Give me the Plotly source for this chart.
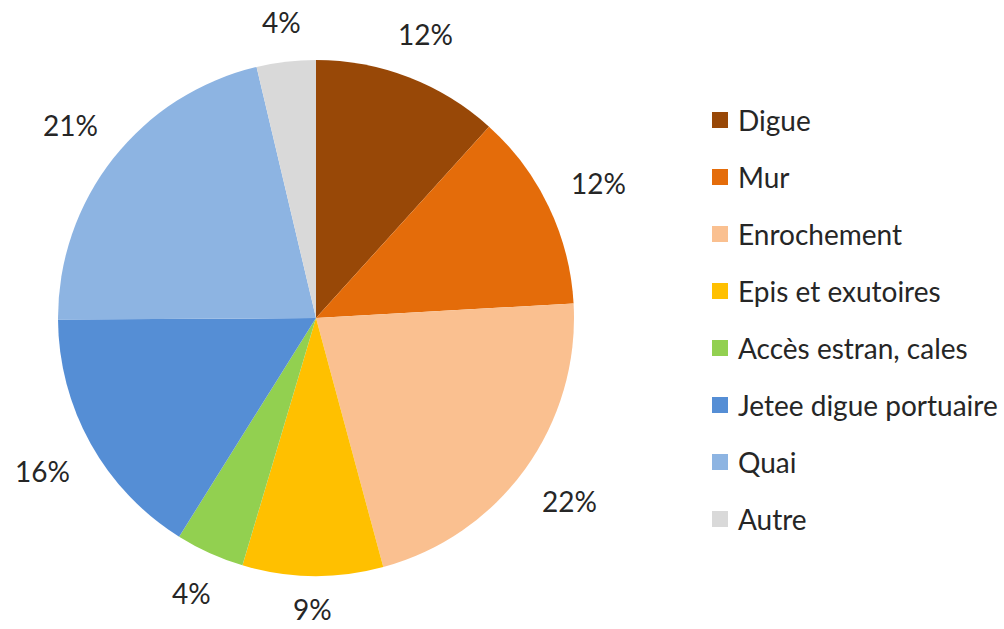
import math
import plotly.graph_objects as go

# ---- data ----
labels = ["Digue", "Mur", "Enrochement", "Epis et exutoires",
          "Accès estran, cales", "Jetee digue portuaire", "Quai", "Autre"]
values = [11.7, 12.4, 21.7, 8.8, 4.3, 16.0, 21.4, 3.7]
colors = ["#984807", "#E46C0A", "#FAC090", "#FFC000",
          "#92D050", "#558ED5", "#8DB4E2", "#D9D9D9"]

W, H = 1004, 629
CX, CY, R = 316, 318, 258          # pie centre / radius in pixels
FONT = "Lato, Open Sans, sans-serif"
TXT = "#262626"

fig = go.Figure()
fig.add_trace(go.Pie(
    labels=labels, values=values, sort=False, direction="clockwise",
    rotation=0, marker=dict(colors=colors, line=dict(width=0)),
    textinfo="none", hoverinfo="label+percent", showlegend=False,
    domain=dict(x=[(CX - R) / W, (CX + R) / W],
                y=[(H - CY - R) / H, (H - CY + R) / H]),
))

# percentage labels placed outside each slice, from the values
total = sum(values)
cum = 0.0
annotations = []
GAP, CH_W, TXT_H = 27, 17.5, 22
for v in values:
    mid = (cum + v / 2) / total
    cum += v
    th = 2 * math.pi * mid
    txt = f"{round(v / total * 100)}%"
    d = R + GAP + (len(txt) * CH_W / 2) * abs(math.sin(th)) + (TXT_H / 2) * abs(math.cos(th))
    px = CX + d * math.sin(th)
    py = min(CY - d * math.cos(th), H - 20)   # keep inside the page
    annotations.append(dict(
        x=px / W, y=(H - py) / H, xref="paper", yref="paper",
        text=txt, showarrow=False, borderpad=0,
        xanchor="center", yanchor="middle",
        font=dict(family=FONT, size=28, color=TXT)))

# legend (squares + labels)
LX, LY0, LSTEP, SQ = 712, 120, 57, 16
shapes = []
for i, (lab, col) in enumerate(zip(labels, colors)):
    yc = LY0 + i * LSTEP
    shapes.append(dict(type="rect", xref="paper", yref="paper",
                       x0=LX / W, x1=(LX + SQ) / W,
                       y0=(H - yc - SQ / 2) / H, y1=(H - yc + SQ / 2) / H,
                       fillcolor=col, line=dict(width=0)))
    annotations.append(dict(
        x=(LX + SQ + 8) / W, y=(H - yc) / H, xref="paper", yref="paper",
        text=lab, showarrow=False, xanchor="left", yanchor="middle",
        font=dict(family=FONT, size=28, color=TXT)))

fig.update_layout(
    width=W, height=H, margin=dict(l=0, r=0, t=0, b=0),
    paper_bgcolor="white", plot_bgcolor="white",
    annotations=annotations, shapes=shapes,
)

fig.write_html("out.html", config={"displayModeBar": False},
               post_script="document.body.style.margin='0';"
                           "document.body.style.padding='0';"
                           "document.body.style.overflow='hidden';")
